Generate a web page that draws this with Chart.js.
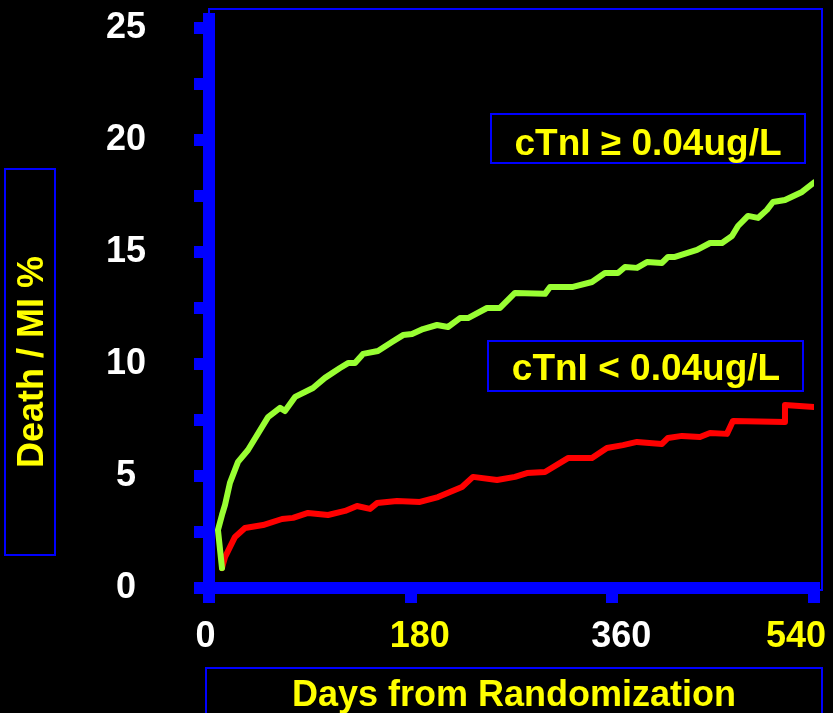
<!DOCTYPE html>
<html>
<head>
<meta charset="utf-8">
<script src="https://cdn.jsdelivr.net/npm/chart.js@4"></script>
<style>
    html, body { margin: 0; padding: 0; background: #000; }
    #wrap { position: relative; width: 833px; height: 713px; }
</style>
</head>
<body>
<div id="wrap"><canvas id="death-chart"></canvas></div>
<script>
// values (days, death / MI %)
const highDays = [11.6, 8.0, 11.6, 14.3, 18.7, 25.9, 34.8, 52.7, 63.4, 67.8, 76.8, 92.8, 103.5, 116.9, 124.1, 130.3,
    137.5, 150.8, 163.3, 173.2, 181.2, 191.0, 203.5, 213.3, 224.0, 231.2, 248.1, 259.7, 273.1, 299.9, 304.4, 324.9,
    341.8, 353.4, 365.0, 371.3, 382.0, 390.9, 404.3, 409.7, 415.9, 435.6, 447.2, 457.9, 466.8, 472.2, 481.1, 490.0,
    498.0, 503.4, 514.1, 529.3, 540.0];
const highRate = [0.89, 2.59, 3.26, 3.71, 4.69, 5.63, 6.16, 7.63, 8.04, 7.90, 8.53, 8.93, 9.38, 9.82, 10.04, 10.04,
    10.45, 10.58, 10.98, 11.29, 11.34, 11.56, 11.74, 11.65, 12.05, 12.05, 12.50, 12.50, 13.17, 13.13, 13.44, 13.44,
    13.66, 14.06, 14.06, 14.33, 14.29, 14.55, 14.51, 14.78, 14.78, 15.09, 15.40, 15.40, 15.71, 16.16, 16.61, 16.52,
    16.88, 17.23, 17.32, 17.68, 18.10];

const lowDays = [11.6, 14.3, 23.2, 32.1, 48.2, 65.2, 75.0, 88.4, 106.2, 121.4, 132.1, 143.7, 150.0, 167.8, 188.3,
    204.4, 225.8, 235.6, 257.1, 273.1, 283.8, 299.9, 320.4, 341.8, 355.2, 369.5, 382.0, 404.3, 409.7, 422.2, 438.2,
    447.2, 462.3, 467.7, 514.1, 514.1, 540.0];
const lowRate = [0.89, 1.38, 2.28, 2.68, 2.81, 3.08, 3.13, 3.35, 3.26, 3.44, 3.66, 3.53, 3.79, 3.88, 3.84,
    4.06, 4.51, 4.96, 4.82, 4.96, 5.13, 5.18, 5.80, 5.80, 6.25, 6.38, 6.52, 6.43, 6.70, 6.79, 6.74,
    6.92, 6.88, 7.46, 7.41, 8.17, 8.08];

const seriesNames = ["cTnI \u2265 0.04ug/L", "cTnI < 0.04ug/L"];
const xTicks = [0, 180, 360, 540];
const yTicks = [0, 5, 10, 15, 20, 25];
const xTitle = "Days from Randomization";
const yTitle = "Death / MI %";

const BLUE = "#0000FF";
const YELLOW = "#FFFF00";
const FONT = "'Liberation Sans', Arial, sans-serif";
const tickFont = { family: FONT, size: 36, weight: "bold" };

function toPoints(days, rate) {
    return days.map((d, i) => ({ x: d, y: rate[i] }));
}

// small nudges so the x labels sit where the slide had them
const xLabelPad = { 0: "0\u2009", 180: "\u2002180", 360: "\u2002360", 540: "540\u2003" };

// boxes and texts around the plot
const framePlugin = {
    id: "frame",
    beforeDraw(chart) {
        const { ctx, chartArea: ca } = chart;
        ctx.save();
        ctx.strokeStyle = BLUE;
        ctx.lineWidth = 2;
        ctx.strokeRect(ca.left, ca.top - 10, ca.right + 8 - ca.left, ca.bottom + 2 - (ca.top - 10));
        ctx.restore();
    },
    afterDraw(chart) {
        const ctx = chart.ctx;
        ctx.save();
        ctx.strokeStyle = BLUE;
        ctx.lineWidth = 2;
        ctx.fillStyle = YELLOW;
        ctx.textAlign = "center";
        ctx.textBaseline = "alphabetic";

        // series labels
        ctx.font = "bold 37px " + FONT;
        ctx.strokeRect(491, 114, 314, 49);
        ctx.fillText(seriesNames[0], 648, 155);
        ctx.strokeRect(488, 341, 315, 50);
        ctx.fillText(seriesNames[1], 646, 380);

        // x title
        ctx.font = "bold 36px " + FONT;
        ctx.strokeRect(206, 668, 616, 60);
        ctx.fillText(xTitle, 514, 706);

        // y title
        ctx.strokeRect(5, 169, 50, 386);
        ctx.translate(43, 362);
        ctx.rotate(-Math.PI / 2);
        ctx.fillText(yTitle, 0, 0);
        ctx.restore();
    }
};

const deathChart = new Chart(document.getElementById("death-chart").getContext("2d"), {
    type: "line",
    data: {
        datasets: [
            {
                label: seriesNames[0],
                data: toPoints(highDays, highRate),
                borderColor: "#99FF33",
                borderWidth: 6
            },
            {
                label: seriesNames[1],
                data: toPoints(lowDays, lowRate),
                borderColor: "#FF0000",
                borderWidth: 6
            }
        ]
    },
    options: {
        responsive: true,
        maintainAspectRatio: false,
        animation: false,
        layout: {
            padding: { top: 19, right: 19, left: 0, bottom: 0 }
        },
        elements: {
            point: { radius: 0 },
            line: { tension: 0, borderCapStyle: "round", borderJoinStyle: "round" }
        },
        plugins: {
            legend: { display: false },
            tooltip: { enabled: false }
        },
        scales: {
            x: {
                type: "linear",
                min: 0,
                max: 540,
                ticks: {
                    stepSize: 180,
                    includeBounds: false,
                    autoSkip: false,
                    maxRotation: 0,
                    padding: 12,
                    font: tickFont,
                    color: (c) => (c.tick && (c.tick.value === 180 || c.tick.value === 540)) ? YELLOW : "#FFFFFF",
                    callback: (v) => xTicks.includes(v) ? xLabelPad[v] : ""
                },
                grid: {
                    drawOnChartArea: false,
                    color: BLUE,
                    lineWidth: 12,
                    tickLength: 15
                },
                border: { color: BLUE, width: 12 },
                afterFit(scale) {
                    scale.height = 125;
                    scale.paddingLeft = 0;
                    scale.paddingRight = 0;
                }
            },
            y: {
                min: 0,
                max: 25.4,
                ticks: {
                    stepSize: 2.5,
                    includeBounds: false,
                    padding: 48,
                    crossAlign: "center",
                    font: tickFont,
                    color: "#FFFFFF",
                    callback: (v) => yTicks.includes(v) ? String(v) : ""
                },
                grid: {
                    drawOnChartArea: false,
                    color: BLUE,
                    lineWidth: 12,
                    tickLength: 15
                },
                border: { color: BLUE, width: 12 },
                afterFit(scale) {
                    scale.width = 209;
                    scale.paddingTop = 0;
                    scale.paddingBottom = 0;
                }
            }
        }
    },
    plugins: [framePlugin]
});
</script>
</body>
</html>
